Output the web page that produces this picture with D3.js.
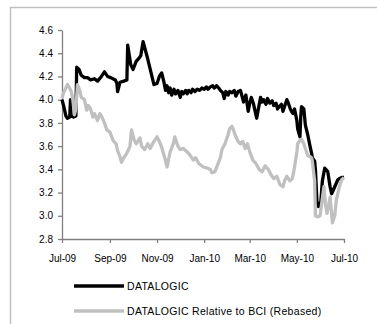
<!DOCTYPE html>
<html>
<head>
<meta charset="utf-8">
<script src="https://cdn.jsdelivr.net/npm/d3@7"></script>
<style>
  html, body { margin: 0; padding: 0; background: #fff; }
  svg { display: block; }
  text { font-family: "Liberation Sans", Arial, sans-serif; }
</style>
</head>
<body>
<svg id="chart" width="377" height="324"></svg>
<script>
const seriesNames = ["DATALOGIC", "DATALOGIC Relative to BCI (Rebased)"];

const datalogicDates = [
  "2009-07-01","2009-07-03","2009-07-06","2009-07-08","2009-07-11","2009-07-12","2009-07-13","2009-07-16","2009-07-19","2009-07-20",
  "2009-07-23","2009-07-26","2009-07-30","2009-08-03","2009-08-07","2009-08-12","2009-08-16","2009-08-21","2009-08-25","2009-08-29",
  "2009-09-02","2009-09-08","2009-09-10","2009-09-11","2009-09-14","2009-09-19","2009-09-23","2009-09-24","2009-09-28","2009-10-01",
  "2009-10-05","2009-10-09","2009-10-11","2009-10-14","2009-10-18","2009-10-20","2009-10-24","2009-10-28","2009-11-01","2009-11-04",
  "2009-11-07","2009-11-10","2009-11-12","2009-11-14","2009-11-16","2009-11-18","2009-11-20","2009-11-23","2009-11-25","2009-11-28",
  "2009-12-01","2009-12-03","2009-12-05","2009-12-08","2009-12-10","2009-12-12","2009-12-15","2009-12-17","2009-12-20","2009-12-23",
  "2009-12-26","2009-12-29","2010-01-01","2010-01-04","2010-01-06","2010-01-09","2010-01-12","2010-01-14","2010-01-17","2010-01-20",
  "2010-01-22","2010-01-25","2010-01-27","2010-01-29","2010-02-01","2010-02-03","2010-02-06","2010-02-09","2010-02-11","2010-02-14",
  "2010-02-17","2010-02-19","2010-02-21","2010-02-24","2010-02-27","2010-03-01","2010-03-03","2010-03-06","2010-03-08","2010-03-10",
  "2010-03-13","2010-03-15","2010-03-17","2010-03-19","2010-03-22","2010-03-24","2010-03-27","2010-03-30","2010-04-01","2010-04-04",
  "2010-04-06","2010-04-08","2010-04-11","2010-04-13","2010-04-15","2010-04-18","2010-04-20","2010-04-22","2010-04-24","2010-04-26",
  "2010-04-28","2010-05-01","2010-05-02","2010-05-05","2010-05-06","2010-05-07","2010-05-10","2010-05-12","2010-05-15","2010-05-18",
  "2010-05-20","2010-05-21","2010-05-24","2010-05-25","2010-05-27","2010-05-29","2010-06-01","2010-06-03","2010-06-06","2010-06-10",
  "2010-06-13","2010-06-15","2010-06-19","2010-06-23","2010-06-25","2010-06-28","2010-07-01"
];
const datalogicValues = [
  4.00,3.95,3.86,3.84,3.85,4.00,3.86,3.85,3.86,4.28,
  4.26,4.21,4.19,4.19,4.17,4.18,4.16,4.20,4.24,4.20,
  4.19,4.17,4.14,4.07,4.15,4.16,4.17,4.47,4.30,4.26,
  4.33,4.36,4.38,4.50,4.40,4.35,4.24,4.13,4.14,4.20,
  4.23,4.15,4.08,4.12,4.06,4.10,4.04,4.09,4.05,4.08,
  4.02,4.07,4.05,4.08,4.05,4.08,4.06,4.09,4.07,4.09,
  4.08,4.10,4.09,4.11,4.09,4.11,4.12,4.10,4.12,4.10,
  4.08,4.06,4.01,4.07,4.04,4.07,4.06,4.08,4.03,4.07,
  4.08,4.03,3.98,4.04,3.90,3.97,4.02,3.96,3.90,3.84,
  3.95,4.02,3.98,4.00,3.96,4.01,3.97,3.99,3.95,3.97,
  3.92,3.94,3.96,3.90,3.94,4.00,3.97,3.93,3.90,3.88,
  3.92,3.82,3.75,3.68,3.85,3.94,3.92,3.78,3.70,3.60,
  3.54,3.50,3.47,3.40,3.12,3.08,3.12,3.30,3.41,3.38,
  3.25,3.19,3.25,3.31,3.32,3.33,3.33
];

const relativeDates = [
  "2009-07-01","2009-07-03","2009-07-06","2009-07-08","2009-07-11","2009-07-13","2009-07-15","2009-07-17","2009-07-19","2009-07-21",
  "2009-07-24","2009-07-26","2009-07-30","2009-08-02","2009-08-04","2009-08-07","2009-08-10","2009-08-12","2009-08-16","2009-08-19",
  "2009-08-21","2009-08-25","2009-08-28","2009-09-01","2009-09-05","2009-09-09","2009-09-11","2009-09-14","2009-09-16","2009-09-19",
  "2009-09-23","2009-09-27","2009-09-29","2009-10-02","2009-10-05","2009-10-07","2009-10-10","2009-10-12","2009-10-16","2009-10-20",
  "2009-10-23","2009-10-27","2009-11-01","2009-11-04","2009-11-07","2009-11-11","2009-11-14","2009-11-18","2009-11-22","2009-11-24",
  "2009-11-28","2009-12-01","2009-12-05","2009-12-10","2009-12-14","2009-12-18","2009-12-21","2009-12-25","2009-12-31","2010-01-05",
  "2010-01-09","2010-01-11","2010-01-15","2010-01-19","2010-01-22","2010-01-24","2010-01-28","2010-02-01","2010-02-03","2010-02-06",
  "2010-02-09","2010-02-11","2010-02-14","2010-02-17","2010-02-20","2010-02-23","2010-02-26","2010-03-01","2010-03-05","2010-03-09",
  "2010-03-13","2010-03-17","2010-03-21","2010-03-25","2010-03-28","2010-04-01","2010-04-05","2010-04-09","2010-04-13","2010-04-15",
  "2010-04-18","2010-04-22","2010-04-25","2010-04-27","2010-04-28","2010-05-01","2010-05-02","2010-05-05","2010-05-07","2010-05-10",
  "2010-05-12","2010-05-15","2010-05-18","2010-05-20","2010-05-21","2010-05-24","2010-05-25","2010-05-28","2010-05-31","2010-06-02",
  "2010-06-05","2010-06-07","2010-06-09","2010-06-13","2010-06-16","2010-06-19","2010-06-21","2010-06-25","2010-06-28","2010-07-01"
];
const relativeValues = [
  4.01,4.06,4.10,4.13,4.10,4.07,4.00,3.87,3.92,4.13,
  4.08,4.02,4.00,3.91,3.95,3.92,3.85,3.88,3.82,3.88,
  3.86,3.80,3.74,3.72,3.65,3.62,3.56,3.51,3.46,3.50,
  3.54,3.60,3.74,3.66,3.62,3.64,3.67,3.60,3.57,3.62,
  3.58,3.63,3.68,3.64,3.59,3.50,3.42,3.55,3.62,3.68,
  3.60,3.57,3.58,3.55,3.52,3.48,3.50,3.45,3.42,3.41,
  3.40,3.37,3.38,3.45,3.50,3.57,3.62,3.70,3.75,3.77,
  3.72,3.68,3.64,3.62,3.64,3.58,3.62,3.55,3.48,3.45,
  3.40,3.38,3.43,3.40,3.36,3.32,3.34,3.27,3.25,3.30,
  3.34,3.30,3.32,3.38,3.42,3.55,3.62,3.65,3.66,3.62,
  3.58,3.52,3.51,3.50,3.47,3.30,3.00,2.99,3.00,3.10,
  3.25,3.10,3.02,3.16,2.94,3.00,3.13,3.25,3.31,3.33
];

const yTicks = [2.8, 3.0, 3.2, 3.4, 3.6, 3.8, 4.0, 4.2, 4.4, 4.6];
const xTickDates = ["2009-07-01","2009-09-01","2009-11-01","2010-01-01","2010-03-01","2010-05-01","2010-07-01"];
const xTickLabels = ["Jul-09","Sep-09","Nov-09","Jan-10","Mar-10","May-10","Jul-10"];

const parse = d3.utcParse("%Y-%m-%d");
const svg = d3.select("#chart");

// outer frame (only top and left edges visible)
svg.append("path")
  .attr("d", "M10.5,330 V7.5 H380")
  .attr("fill", "none")
  .attr("stroke", "#c0c0c0")
  .attr("stroke-width", 1.5);

const x = d3.scaleUtc()
  .domain([parse(xTickDates[0]), parse(xTickDates[xTickDates.length - 1])])
  .range([62, 344]);
const y = d3.scaleLinear().domain([2.8, 4.6]).range([239, 30]);

const axisColor = "#808080";

const yAxis = svg.append("g")
  .attr("transform", "translate(62,0)")
  .call(d3.axisLeft(y).tickValues(yTicks).tickFormat(d3.format(".1f"))
    .tickSize(4).tickSizeOuter(0).tickPadding(5));
const xAxis = svg.append("g")
  .attr("transform", "translate(0,239)")
  .call(d3.axisBottom(x).tickValues(xTickDates.map(parse))
    .tickFormat((d, i) => xTickLabels[i])
    .tickSize(4).tickSizeOuter(0).tickPadding(12));

[yAxis, xAxis].forEach(g => {
  g.select(".domain").attr("stroke", axisColor).attr("stroke-width", 1.3);
  g.selectAll(".tick line").attr("stroke", axisColor).attr("stroke-width", 1.3);
  g.selectAll(".tick text").attr("fill", "#000").style("font-size", "10px")
    .style("font-family", "'Liberation Sans', Arial, sans-serif");
});

const line = d3.line()
  .x(d => x(d[0]))
  .y(d => y(d[1]));

const black = datalogicDates.map((d, i) => [parse(d), datalogicValues[i]]);
const gray = relativeDates.map((d, i) => [parse(d), relativeValues[i]]);

svg.append("path")
  .datum(black)
  .attr("d", line)
  .attr("fill", "none")
  .attr("stroke", "#000")
  .attr("stroke-width", 3.3)
  .attr("stroke-linejoin", "round");

svg.append("path")
  .datum(gray)
  .attr("d", line)
  .attr("fill", "none")
  .attr("stroke", "#c0c0c0")
  .attr("stroke-width", 3.3)
  .attr("stroke-linejoin", "round");

// legend
const legendColors = ["#000", "#c0c0c0"];
const legendY = [286, 311];
seriesNames.forEach((name, i) => {
  svg.append("line")
    .attr("x1", 74).attr("x2", 124)
    .attr("y1", legendY[i]).attr("y2", legendY[i])
    .attr("stroke", legendColors[i])
    .attr("stroke-width", 3.5);
  svg.append("text")
    .attr("x", 127)
    .attr("y", legendY[i])
    .attr("dy", "0.35em")
    .style("font-size", "10.5px")
    .style("letter-spacing", "0.3px")
    .attr("fill", "#000")
    .text(name);
});
</script>
</body>
</html>
